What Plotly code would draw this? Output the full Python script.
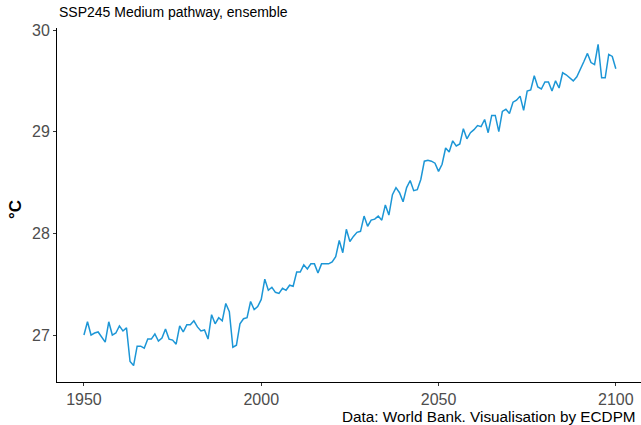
import plotly.graph_objects as go

years = list(range(1950, 2101))

temps_1950s = [27.00, 27.13, 27.00, 27.02, 27.03, 26.98, 26.93, 27.13, 27.00, 27.02]
temps_1960s = [27.09, 27.04, 27.07, 26.74, 26.70, 26.89, 26.89, 26.87, 26.96, 26.96]
temps_1970s = [27.01, 26.94, 26.97, 27.06, 26.96, 26.95, 26.91, 27.09, 27.03, 27.10]
temps_1980s = [27.10, 27.14, 27.08, 27.04, 27.05, 26.96, 27.20, 27.11, 27.17, 27.14]
temps_1990s = [27.31, 27.23, 26.88, 26.90, 27.11, 27.16, 27.17, 27.33, 27.25, 27.28]
temps_2000s = [27.35, 27.55, 27.44, 27.47, 27.42, 27.41, 27.46, 27.44, 27.49, 27.48]
temps_2010s = [27.62, 27.62, 27.69, 27.65, 27.70, 27.70, 27.61, 27.70, 27.70, 27.70]
temps_2020s = [27.72, 27.77, 27.93, 27.81, 28.04, 27.92, 27.97, 28.01, 28.02, 28.17]
temps_2030s = [28.07, 28.13, 28.14, 28.17, 28.13, 28.28, 28.18, 28.38, 28.45, 28.40]
temps_2040s = [28.31, 28.45, 28.52, 28.42, 28.43, 28.53, 28.71, 28.72, 28.71, 28.69]
temps_2050s = [28.61, 28.68, 28.84, 28.80, 28.91, 28.86, 28.88, 29.03, 28.93, 28.99]
temps_2060s = [29.02, 29.06, 29.05, 29.12, 28.99, 29.16, 29.16, 29.00, 29.20, 29.22]
temps_2070s = [29.18, 29.29, 29.31, 29.35, 29.21, 29.40, 29.41, 29.55, 29.44, 29.42]
temps_2080s = [29.49, 29.49, 29.40, 29.50, 29.43, 29.58, 29.56, 29.53, 29.50, 29.54]
temps_2090s = [29.61, 29.69, 29.77, 29.68, 29.66, 29.86, 29.53, 29.53, 29.76, 29.74]
temps_2100 = [29.62]

temps = (temps_1950s + temps_1960s + temps_1970s + temps_1980s + temps_1990s
         + temps_2000s + temps_2010s + temps_2020s + temps_2030s + temps_2040s
         + temps_2050s + temps_2060s + temps_2070s + temps_2080s + temps_2090s
         + temps_2100)

x_ticks = [1950, 2000, 2050, 2100]
y_ticks = [27, 28, 29, 30]

title_text = "SSP245 Medium pathway, ensemble"
caption_text = "Data: World Bank. Visualisation by ECDPM"
y_label = "°C"

FONT = "Liberation Sans, Arial, Helvetica, sans-serif"

fig = go.Figure()
fig.add_trace(go.Scatter(
    x=years, y=temps, mode="lines",
    line=dict(color="#1C96D6", width=1.5),
    hoverinfo="skip", showlegend=False,
))

fig.update_layout(
    width=641, height=425,
    margin=dict(l=57, r=0, t=28, b=43),
    paper_bgcolor="white", plot_bgcolor="white",
    font=dict(family=FONT),
    showlegend=False,
    xaxis=dict(
        range=[1942.4, 2107.1], tickvals=x_ticks, ticktext=[str(v) for v in x_ticks],
        showgrid=False, zeroline=False, showline=True, linecolor="black", linewidth=1,
        ticks="outside", ticklen=3, tickcolor="#333333", tickwidth=1,
        tickfont=dict(size=16, color="#4d4d4d", family=FONT),
    ),
    yaxis=dict(
        range=[26.538, 30.02], tickvals=y_ticks, ticktext=[str(v) for v in y_ticks],
        showgrid=False, zeroline=False, showline=True, linecolor="black", linewidth=1,
        ticks="outside", ticklen=3, tickcolor="#333333", tickwidth=1,
        tickfont=dict(size=16, color="#4d4d4d", family=FONT),
    ),
    annotations=[
        dict(text=title_text, xref="paper", yref="paper", x=0, y=1,
             xanchor="left", yanchor="bottom", yshift=6, xshift=0, showarrow=False,
             font=dict(size=14, color="black", family=FONT)),
        dict(text=caption_text, xref="paper", yref="paper", x=1, y=0,
             xanchor="right", yanchor="top", yshift=-24, xshift=-3, showarrow=False,
             font=dict(size=15.3, color="black", family=FONT)),
        dict(text="<b>" + y_label + "</b>", xref="paper", yref="paper", x=0, y=0.5,
             xanchor="center", yanchor="middle", xshift=-42, yshift=-5,
             textangle=-90, showarrow=False,
             font=dict(size=17, color="black", family=FONT)),
    ],
)

fig.write_html(
    "out.html",
    config={"displayModeBar": False},
    post_script="document.body.style.margin='0';document.body.style.overflow='hidden';",
)
